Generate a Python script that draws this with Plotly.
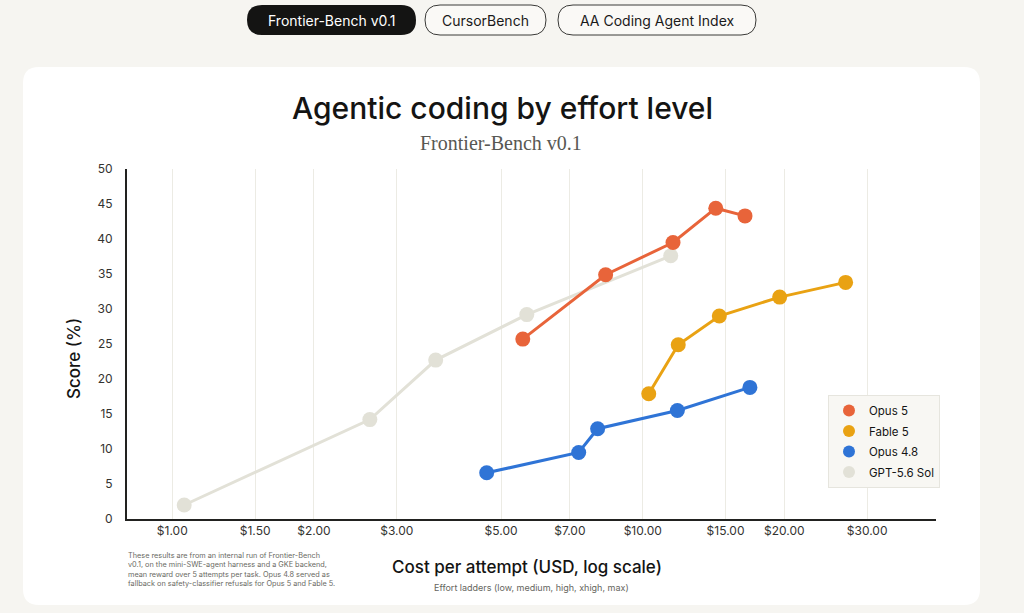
import plotly.graph_objects as go

# ---- data ----
opus5_cost = [5.56, 8.34, 11.6, 14.3, 16.5]
opus5_score = [25.7, 34.9, 39.5, 44.4, 43.3]
fable5_cost = [10.3, 11.9, 14.55, 19.55, 27.0]
fable5_score = [17.9, 24.9, 29.0, 31.7, 33.8]
opus48_cost = [4.66, 7.31, 8.02, 11.85, 16.9]
opus48_score = [6.6, 9.5, 12.9, 15.5, 18.8]
gpt_cost = [1.06, 2.63, 3.63, 5.67, 11.47]
gpt_score = [2.0, 14.2, 22.7, 29.2, 37.6]

x_tickvals = [1, 1.5, 2, 3, 5, 7, 10, 15, 20, 30]
x_ticktext = ["$1.00", "$1.50", "$2.00", "$3.00", "$5.00", "$7.00", "$10.00", "$15.00", "$20.00", "$30.00"]
y_tickvals = [0, 5, 10, 15, 20, 25, 30, 35, 40, 45, 50]

series = [
    ("Opus 5", opus5_cost, opus5_score, "#E8643A"),
    ("Fable 5", fable5_cost, fable5_score, "#E9A213"),
    ("Opus 4.8", opus48_cost, opus48_score, "#2F74D6"),
    ("GPT-5.6 Sol", gpt_cost, gpt_score, "#E2E1D7"),
]

W, H = 1024, 613
L, R, T, B = 127, 936, 169, 519  # plot area in pixels


def px(x):
    return (x - L) / (R - L)


def py(y):
    return (B - y) / (B - T)


def rounded(x0, y0, x1, y1, r):
    rx = r / (R - L)
    ry = r / (B - T)
    a, b, c, d = px(x0), py(y1), px(x1), py(y0)
    return (f"M {a+rx},{b} L {c-rx},{b} Q {c},{b} {c},{b+ry} L {c},{d-ry} "
            f"Q {c},{d} {c-rx},{d} L {a+rx},{d} Q {a},{d} {a},{d-ry} "
            f"L {a},{b+ry} Q {a},{b} {a+rx},{b} Z")


fig = go.Figure()

for name, xs, ys, col in reversed(series):
    fig.add_trace(go.Scatter(
        x=xs, y=ys, mode="lines+markers", name=name, showlegend=False,
        line=dict(color=col, width=3),
        marker=dict(color=col, size=15),
        hoverinfo="x+y+name",
    ))

for name, xs, ys, col in series:
    fig.add_trace(go.Scatter(
        x=[None], y=[None], mode="markers", name=name, showlegend=True,
        legendgroup=name,
        marker=dict(color=col, size=13),
    ))

shapes = [
    dict(type="path", xref="paper", yref="paper", layer="below",
         path=rounded(23, 67, 980, 605, 16), fillcolor="#FFFFFF", line=dict(width=0)),
    dict(type="path", xref="paper", yref="paper", layer="below",
         path=rounded(247, 5, 416, 35, 15), fillcolor="#141413", line=dict(width=0)),
    dict(type="path", xref="paper", yref="paper", layer="below",
         path=rounded(425, 5, 546, 35, 15), fillcolor="#FAF9F6", line=dict(color="#3a3a38", width=1)),
    dict(type="path", xref="paper", yref="paper", layer="below",
         path=rounded(558, 5, 756, 35, 15), fillcolor="#FAF9F6", line=dict(color="#3a3a38", width=1)),
]

annotations = [
    dict(text="Frontier-Bench v0.1", x=px(331.5), y=py(20), font=dict(size=14, color="#FFFFFF", family="Inter")),
    dict(text="CursorBench", x=px(485.5), y=py(20), font=dict(size=14, color="#1a1a1a", family="Inter")),
    dict(text="AA Coding Agent Index", x=px(657), y=py(20), font=dict(size=14, color="#1a1a1a", family="Inter")),
    dict(text="Agentic coding by effort level", x=px(502), y=py(108),
         font=dict(size=30, color="#141413", family="Inter", weight=500)),
    dict(text="Frontier-Bench v0.1", x=px(501), y=py(143),
         font=dict(size=20, color="#585853", family="Liberation Serif")),
    dict(text="Score (%)", x=px(74), y=py(359), textangle=-90,
         font=dict(size=17, color="#141413", family="Inter", weight=500)),
    dict(text="Cost per attempt (USD, log scale)", x=px(527), y=py(567),
         font=dict(size=17, color="#141413", family="Inter", weight=500)),
    dict(text="Effort ladders (low, medium, high, xhigh, max)", x=px(531), y=py(587),
         font=dict(size=9, color="#666660", family="Inter")),
    dict(text=("These results are from an internal run of Frontier-Bench<br>"
               "v0.1, on the mini-SWE-agent harness and a GKE backend,<br>"
               "mean reward over 5 attempts per task. Opus 4.8 served as<br>"
               "fallback on safety-classifier refusals for Opus 5 and Fable 5."),
         x=px(126), y=py(549), xanchor="left", yanchor="top", align="left",
         font=dict(size=7.3, color="#6a6a64", family="Inter")),
]
for a in annotations:
    a.setdefault("xref", "paper")
    a.setdefault("yref", "paper")
    a.setdefault("showarrow", False)
    a.setdefault("xanchor", "center")
    a.setdefault("yanchor", "middle")

fig.update_layout(
    width=W, height=H,
    margin=dict(l=L, r=W - R, t=T, b=H - B, pad=0),
    paper_bgcolor="#F6F5F1",
    plot_bgcolor="rgba(0,0,0,0)",
    font=dict(family="Inter", color="#333330"),
    shapes=shapes,
    annotations=annotations,
    showlegend=True,
    legend=dict(
        x=px(828), y=py(395), xanchor="left", yanchor="top",
        bgcolor="#F8F7F3", bordercolor="#E6E5DE", borderwidth=1,
        font=dict(size=11.5, color="#141413", family="Inter"),
        itemsizing="constant", tracegroupgap=1.5, itemwidth=30,
    ),
    xaxis=dict(
        type="log", range=[-0.0963, 1.6235],
        tickvals=x_tickvals, ticktext=x_ticktext,
        showgrid=True, gridcolor="#ECEBE4", gridwidth=1,
        showline=True, linecolor="#222220", linewidth=2,
        ticks="", tickfont=dict(size=12, color="#333330"),
        zeroline=False, fixedrange=True,
    ),
    yaxis=dict(
        range=[0, 50], tickvals=y_tickvals,
        showgrid=False, showline=True, linecolor="#222220", linewidth=2,
        ticks="", ticklabelstandoff=10, tickfont=dict(size=12, color="#333330"),
        zeroline=False, fixedrange=True,
    ),
)

fig.write_html("out.html", config={"displayModeBar": False},
               post_script="document.body.style.margin='0';document.body.style.overflow='hidden';")
